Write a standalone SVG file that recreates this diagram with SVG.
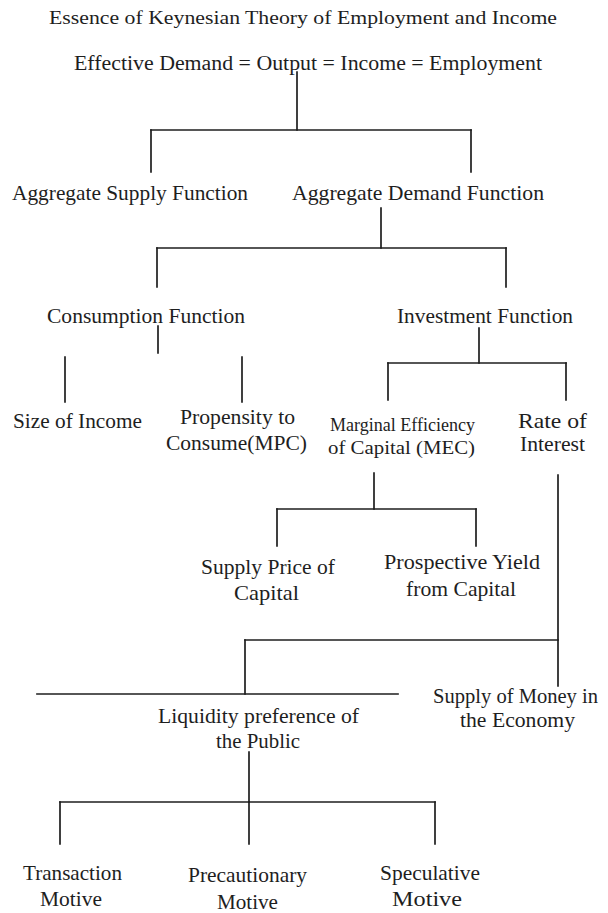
<svg xmlns="http://www.w3.org/2000/svg" width="608" height="913" viewBox="0 0 608 913">
<style>
text{font-family:"Liberation Serif","Times New Roman",serif;font-size:21px;fill:#1e1e1e}
.t{font-size:18px}
.e{font-size:20px}
.m{font-size:19px}
.c line{stroke:#1e1e1e;stroke-width:1.7;stroke-linecap:square}
</style>
<rect width="608" height="913" fill="#fff"/>
<g id="connectors" class="c">
<line x1="297" y1="72" x2="297" y2="130"/>
<line x1="151" y1="130" x2="471" y2="130"/>
<line x1="151" y1="130" x2="151" y2="172"/>
<line x1="471" y1="130" x2="471" y2="172"/>
<line x1="381" y1="208" x2="381" y2="248"/>
<line x1="157" y1="248" x2="506" y2="248"/>
<line x1="157" y1="248" x2="157" y2="287"/>
<line x1="506" y1="248" x2="506" y2="287"/>
<line x1="158" y1="326" x2="158" y2="353"/>
<line x1="65" y1="357" x2="65" y2="402"/>
<line x1="242" y1="357" x2="242" y2="402"/>
<line x1="479" y1="328" x2="479" y2="363"/>
<line x1="388" y1="363" x2="566" y2="363"/>
<line x1="388" y1="363" x2="388" y2="400"/>
<line x1="566" y1="363" x2="566" y2="400"/>
<line x1="374" y1="473" x2="374" y2="509"/>
<line x1="277" y1="509" x2="476" y2="509"/>
<line x1="277" y1="509" x2="277" y2="546"/>
<line x1="476" y1="509" x2="476" y2="546"/>
<line x1="558" y1="475" x2="558" y2="686"/>
<line x1="245" y1="640" x2="558" y2="640"/>
<line x1="245" y1="640" x2="245" y2="694"/>
<line x1="37" y1="694" x2="398" y2="694"/>
<line x1="249" y1="752" x2="249" y2="802"/>
<line x1="60" y1="802" x2="435" y2="802"/>
<line x1="60" y1="802" x2="60" y2="844"/>
<line x1="249" y1="802" x2="249" y2="844"/>
<line x1="435" y1="802" x2="435" y2="844"/>
</g>
<g id="title"><text class="t" x="49" y="24" textLength="508" lengthAdjust="spacingAndGlyphs">Essence of Keynesian Theory of Employment and Income</text></g>
<g id="effective-demand"><text class="e" x="74" y="70" textLength="468" lengthAdjust="spacingAndGlyphs">Effective Demand = Output = Income = Employment</text></g>
<g id="aggregate-supply"><text x="12" y="200" textLength="236" lengthAdjust="spacingAndGlyphs">Aggregate Supply Function</text></g>
<g id="aggregate-demand"><text x="292" y="200" textLength="252" lengthAdjust="spacingAndGlyphs">Aggregate Demand Function</text></g>
<g id="consumption"><text x="47" y="323" textLength="198" lengthAdjust="spacingAndGlyphs">Consumption Function</text></g>
<g id="investment"><text x="397" y="323" textLength="176" lengthAdjust="spacingAndGlyphs">Investment Function</text></g>
<g id="size-income"><text x="13" y="428" textLength="129" lengthAdjust="spacingAndGlyphs">Size of Income</text></g>
<g id="propensity"><text x="180" y="424" textLength="115" lengthAdjust="spacingAndGlyphs">Propensity to</text><text x="166" y="450" textLength="141" lengthAdjust="spacingAndGlyphs">Consume(MPC)</text></g>
<g id="mec"><text class="m" x="330" y="431" textLength="145" lengthAdjust="spacingAndGlyphs">Marginal Efficiency</text><text class="m" x="328" y="454" textLength="147" lengthAdjust="spacingAndGlyphs">of Capital (MEC)</text></g>
<g id="rate-interest"><text x="518" y="428" textLength="69" lengthAdjust="spacingAndGlyphs">Rate of</text><text x="520" y="451" textLength="65" lengthAdjust="spacingAndGlyphs">Interest</text></g>
<g id="supply-price"><text x="201" y="574" textLength="134" lengthAdjust="spacingAndGlyphs">Supply Price of</text><text x="234" y="600" textLength="65" lengthAdjust="spacingAndGlyphs">Capital</text></g>
<g id="prospective-yield"><text x="384" y="569" textLength="156" lengthAdjust="spacingAndGlyphs">Prospective Yield</text><text x="406" y="596" textLength="110" lengthAdjust="spacingAndGlyphs">from Capital</text></g>
<g id="liquidity"><text x="158" y="723" textLength="201" lengthAdjust="spacingAndGlyphs">Liquidity preference of</text><text x="216" y="748" textLength="84" lengthAdjust="spacingAndGlyphs">the Public</text></g>
<g id="money-supply"><text x="433" y="703" textLength="165" lengthAdjust="spacingAndGlyphs">Supply of Money in</text><text x="460" y="727" textLength="115" lengthAdjust="spacingAndGlyphs">the Economy</text></g>
<g id="transaction"><text x="23" y="880" textLength="99" lengthAdjust="spacingAndGlyphs">Transaction</text><text x="40" y="906" textLength="62" lengthAdjust="spacingAndGlyphs">Motive</text></g>
<g id="precautionary"><text x="188" y="882" textLength="119" lengthAdjust="spacingAndGlyphs">Precautionary</text><text x="217" y="909" textLength="61" lengthAdjust="spacingAndGlyphs">Motive</text></g>
<g id="speculative"><text x="380" y="880" textLength="100" lengthAdjust="spacingAndGlyphs">Speculative</text><text x="392" y="906" textLength="70" lengthAdjust="spacingAndGlyphs">Motive</text></g>
</svg>
